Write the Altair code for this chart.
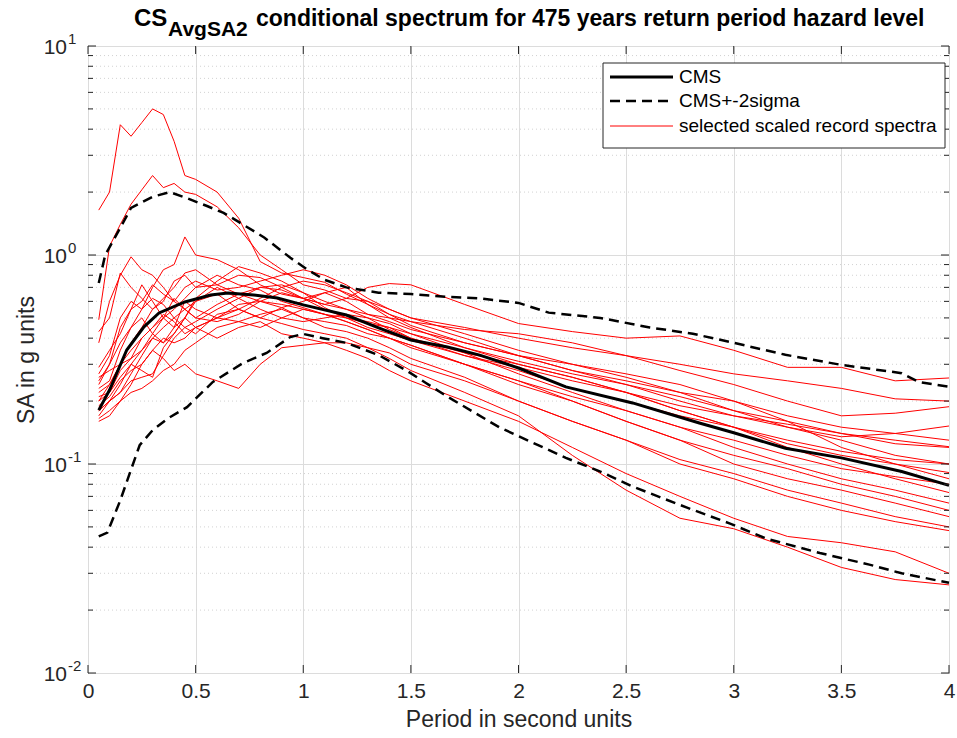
import altair as alt
import pandas as pd

# ---------------- data ----------------
periods_cms = [0.05, 0.1, 0.18, 0.26, 0.33, 0.45, 0.57, 0.65, 0.77, 0.88, 1.0, 1.2, 1.35,
               1.5, 1.67, 1.82, 2.0, 2.22, 2.53, 2.84, 3.0, 3.24, 3.5, 3.78, 4.0]
cms = [0.181, 0.226, 0.351, 0.453, 0.528, 0.596, 0.644, 0.658, 0.644, 0.623, 0.577, 0.516, 0.448,
       0.392, 0.363, 0.332, 0.288, 0.234, 0.196, 0.157, 0.141, 0.119, 0.107, 0.092, 0.079]

periods_up = [0.05, 0.08, 0.15, 0.2, 0.3, 0.38, 0.46, 0.55, 0.63, 0.7, 0.82, 0.94, 1.02, 1.1, 1.2,
              1.35, 1.5, 1.67, 1.82, 2.0, 2.14, 2.38, 2.61, 2.81, 3.0, 3.24, 3.5, 3.78, 3.86, 4.0]
cms_up = [0.735, 1.0, 1.35, 1.68, 1.9, 2.0, 1.87, 1.72, 1.59, 1.44, 1.21, 0.97, 0.85, 0.76, 0.70,
          0.66, 0.65, 0.63, 0.62, 0.59, 0.53, 0.50, 0.45, 0.42, 0.38, 0.333, 0.298, 0.272, 0.247, 0.234]

periods_lo = [0.05, 0.09, 0.15, 0.2, 0.24, 0.3, 0.37, 0.46, 0.58, 0.72, 0.83, 0.94, 1.0, 1.09, 1.2,
              1.35, 1.48, 1.57, 1.67, 1.91, 2.07, 2.22, 2.38, 2.53, 2.78, 2.98, 3.15, 3.4, 3.63, 3.78, 4.0]
cms_lo = [0.045, 0.047, 0.067, 0.094, 0.123, 0.145, 0.165, 0.187, 0.247, 0.304, 0.34, 0.405, 0.419,
          0.40, 0.38, 0.332, 0.28, 0.244, 0.21, 0.15, 0.126, 0.107, 0.092, 0.078, 0.062, 0.052, 0.044,
          0.0375, 0.033, 0.030, 0.027]

periods_rec = [0.05, 0.1, 0.15, 0.2, 0.25, 0.3, 0.35, 0.4, 0.45, 0.5, 0.6, 0.7, 0.8, 0.9, 1.0,
               1.1, 1.2, 1.3, 1.4, 1.5, 1.75, 2.0, 2.25, 2.5, 2.75, 3.0, 3.25, 3.5, 3.75, 4.0]
rec01 = [1.64, 2.0, 4.2, 3.7, 4.3, 5.0, 4.7, 3.5, 2.4, 2.3, 2.0, 1.5, 0.93, 0.82, 0.78, 0.74, 0.65, 0.58, 0.52, 0.48, 0.40, 0.33, 0.28, 0.24, 0.21, 0.18, 0.16, 0.14, 0.125, 0.12]
rec02 = [0.49, 1.1, 1.4, 1.75, 2.05, 2.4, 2.1, 2.2, 2.0, 1.95, 1.7, 1.35, 1.0, 0.85, 0.72, 0.68, 0.62, 0.6, 0.55, 0.5, 0.45, 0.40, 0.36, 0.33, 0.30, 0.27, 0.25, 0.23, 0.205, 0.20]
rec03 = [0.43, 0.5, 0.82, 0.7, 0.62, 0.55, 0.6, 0.75, 0.8, 0.7, 0.72, 0.8, 0.78, 0.7, 0.62, 0.58, 0.62, 0.70, 0.73, 0.72, 0.58, 0.47, 0.43, 0.40, 0.41, 0.35, 0.29, 0.29, 0.25, 0.258]
rec04 = [0.25, 0.3, 0.38, 0.45, 0.55, 0.7, 0.85, 0.9, 1.22, 1.0, 0.95, 0.85, 0.72, 0.65, 0.62, 0.66, 0.6, 0.52, 0.5, 0.48, 0.44, 0.42, 0.38, 0.33, 0.28, 0.24, 0.2, 0.17, 0.175, 0.188]
rec05 = [0.38, 0.6, 0.8, 0.98, 0.85, 0.8, 0.7, 0.6, 0.55, 0.5, 0.58, 0.65, 0.7, 0.68, 0.62, 0.55, 0.5, 0.47, 0.45, 0.42, 0.36, 0.31, 0.27, 0.24, 0.2, 0.17, 0.15, 0.135, 0.14, 0.152]
rec06 = [0.29, 0.35, 0.42, 0.55, 0.72, 0.6, 0.5, 0.45, 0.5, 0.62, 0.75, 0.88, 0.82, 0.75, 0.66, 0.6, 0.55, 0.52, 0.48, 0.44, 0.38, 0.33, 0.28, 0.25, 0.22, 0.20, 0.17, 0.15, 0.14, 0.130]
rec07 = [0.22, 0.24, 0.3, 0.38, 0.45, 0.55, 0.62, 0.7, 0.82, 0.85, 0.72, 0.65, 0.6, 0.58, 0.55, 0.52, 0.5, 0.48, 0.45, 0.4, 0.33, 0.29, 0.25, 0.22, 0.19, 0.17, 0.155, 0.14, 0.13, 0.121]
rec08 = [0.27, 0.33, 0.5, 0.6, 0.55, 0.62, 0.58, 0.5, 0.45, 0.48, 0.55, 0.62, 0.7, 0.72, 0.66, 0.56, 0.5, 0.45, 0.42, 0.39, 0.33, 0.28, 0.23, 0.2, 0.17, 0.15, 0.13, 0.115, 0.105, 0.100]
rec09 = [0.2, 0.24, 0.3, 0.35, 0.4, 0.45, 0.5, 0.62, 0.55, 0.5, 0.48, 0.52, 0.6, 0.66, 0.62, 0.58, 0.55, 0.5, 0.44, 0.4, 0.34, 0.3, 0.26, 0.22, 0.18, 0.15, 0.125, 0.11, 0.1, 0.091]
rec10 = [0.18, 0.2, 0.24, 0.3, 0.35, 0.42, 0.5, 0.55, 0.62, 0.7, 0.8, 0.72, 0.68, 0.6, 0.56, 0.52, 0.48, 0.44, 0.4, 0.37, 0.3, 0.25, 0.21, 0.18, 0.15, 0.13, 0.11, 0.095, 0.087, 0.080]
rec11 = [0.17, 0.2, 0.22, 0.25, 0.26, 0.27, 0.33, 0.4, 0.45, 0.42, 0.52, 0.55, 0.5, 0.56, 0.6, 0.66, 0.7, 0.58, 0.5, 0.45, 0.36, 0.3, 0.26, 0.22, 0.18, 0.15, 0.12, 0.1, 0.085, 0.073]
rec12 = [0.23, 0.25, 0.35, 0.45, 0.5, 0.42, 0.38, 0.45, 0.6, 0.55, 0.5, 0.48, 0.52, 0.55, 0.5, 0.48, 0.46, 0.42, 0.4, 0.36, 0.3, 0.25, 0.2, 0.16, 0.13, 0.11, 0.095, 0.08, 0.07, 0.060]
rec13 = [0.165, 0.18, 0.2, 0.22, 0.23, 0.25, 0.28, 0.3, 0.35, 0.38, 0.45, 0.48, 0.45, 0.5, 0.55, 0.52, 0.48, 0.44, 0.4, 0.37, 0.3, 0.24, 0.2, 0.16, 0.13, 0.1, 0.085, 0.075, 0.065, 0.056]
rec14 = [0.21, 0.22, 0.28, 0.32, 0.4, 0.45, 0.52, 0.48, 0.42, 0.45, 0.5, 0.58, 0.6, 0.56, 0.5, 0.45, 0.43, 0.4, 0.36, 0.32, 0.26, 0.2, 0.16, 0.13, 0.105, 0.09, 0.075, 0.065, 0.056, 0.050]
rec15 = [0.16, 0.17, 0.2, 0.24, 0.3, 0.35, 0.32, 0.28, 0.3, 0.27, 0.25, 0.23, 0.3, 0.36, 0.37, 0.38, 0.38, 0.36, 0.34, 0.3, 0.25, 0.2, 0.16, 0.13, 0.1, 0.085, 0.07, 0.06, 0.053, 0.048]
rec16 = [0.2, 0.22, 0.26, 0.3, 0.28, 0.26, 0.36, 0.42, 0.5, 0.45, 0.4, 0.45, 0.48, 0.42, 0.4, 0.38, 0.35, 0.32, 0.28, 0.25, 0.2, 0.16, 0.12, 0.09, 0.07, 0.055, 0.045, 0.042, 0.038, 0.030]
rec17 = [0.18, 0.2, 0.22, 0.27, 0.33, 0.4, 0.45, 0.5, 0.55, 0.6, 0.65, 0.55, 0.5, 0.47, 0.44, 0.42, 0.4, 0.36, 0.32, 0.28, 0.22, 0.17, 0.11, 0.075, 0.055, 0.049, 0.04, 0.032, 0.028, 0.0264]
rec18 = [0.24, 0.3, 0.45, 0.55, 0.6, 0.72, 0.65, 0.6, 0.7, 0.75, 0.68, 0.7, 0.75, 0.8, 0.85, 0.8, 0.72, 0.62, 0.55, 0.5, 0.42, 0.35, 0.3, 0.26, 0.22, 0.18, 0.15, 0.13, 0.11, 0.100]
rec19 = [0.26, 0.28, 0.3, 0.32, 0.35, 0.4, 0.38, 0.42, 0.5, 0.6, 0.7, 0.62, 0.55, 0.5, 0.48, 0.5, 0.52, 0.5, 0.47, 0.42, 0.34, 0.27, 0.22, 0.18, 0.15, 0.12, 0.1, 0.085, 0.075, 0.065]
rec20 = [0.19, 0.21, 0.25, 0.28, 0.3, 0.35, 0.4, 0.38, 0.4, 0.45, 0.5, 0.55, 0.62, 0.7, 0.75, 0.72, 0.66, 0.6, 0.52, 0.46, 0.38, 0.33, 0.3, 0.27, 0.24, 0.2, 0.16, 0.12, 0.1, 0.085]
records = [rec01, rec02, rec03, rec04, rec05, rec06, rec07, rec08, rec09, rec10,
           rec11, rec12, rec13, rec14, rec15, rec16, rec17, rec18, rec19, rec20]

xtick_vals = [0, 0.5, 1, 1.5, 2, 2.5, 3, 3.5, 4]
ytick_vals = [0.01, 0.1, 1, 10]
ytick_exps = ["-2", "-1", "0", "1"]
minor_vals = [m * d for d in (0.01, 0.1, 1) for m in range(2, 10)]

title_main = "CS"
title_sub = "AvgSA2"
title_rest = "conditional spectrum for 475 years return period hazard level"
x_title = "Period in second units"
y_title = "SA in g units"
legend_labels = ["CMS", "CMS+-2sigma", "selected scaled record spectra"]

# ---------------- tables ----------------
rec_df = pd.DataFrame([
    {"rec": f"r{i + 1:02d}", "T": t, "SA": v}
    for i, r in enumerate(records) for t, v in zip(periods_rec, r)
])
cms_df = pd.DataFrame({"T": periods_cms, "SA": cms})
band_df = pd.concat([
    pd.DataFrame({"T": periods_up, "SA": cms_up, "side": "up"}),
    pd.DataFrame({"T": periods_lo, "SA": cms_lo, "side": "lo"}),
])
xt_df = pd.DataFrame({"T": xtick_vals})
ymaj_df = pd.DataFrame({"SA": ytick_vals, "base": "10", "exp": ytick_exps})
ymin_df = pd.DataFrame({"SA": minor_vals})
one = pd.DataFrame({"a": [0]})

W, H = 861, 627
FONT = "Liberation Sans"
INK = "#262626"
GRID = "#dcdcdc"

xscale = alt.Scale(domain=[0, 4], nice=False, zero=False)
yscale = alt.Scale(type="log", domain=[0.01, 10], nice=False)

xaxis = alt.Axis(values=xtick_vals, format="~g", grid=True, gridColor=GRID, ticks=False,
                 domain=False, labelFontSize=21, labelColor=INK, labelFont=FONT,
                 labelFlush=False, labelPadding=7, title=x_title, titleFontSize=23,
                 titleFontWeight="normal", titleColor=INK, titleFont=FONT,
                 titleBaseline="alphabetic", titleY=53, titleX=W / 2)
yaxis = alt.Axis(values=ytick_vals, grid=True, gridColor=GRID, ticks=False, domain=False,
                 labels=False, title=y_title, titleFontSize=23, titleFontWeight="normal",
                 titleColor=INK, titleFont=FONT, titleBaseline="alphabetic",
                 titleX=-55, titleY=H / 2, titleAngle=270)

x_enc = alt.X("T:Q", scale=xscale, axis=xaxis)
y_enc = alt.Y("SA:Q", scale=yscale, axis=yaxis)

minor_grid = alt.Chart(ymin_df).mark_rule(color="#d2d2d2", strokeDash=[1, 3], strokeWidth=1).encode(y=y_enc)

red = alt.Chart(rec_df).mark_line(color="#ff0000", strokeWidth=1).encode(
    x=x_enc, y=y_enc, detail="rec:N")
band = alt.Chart(band_df).mark_line(color="black", strokeWidth=2.5, strokeDash=[10, 6]).encode(
    x=x_enc, y=y_enc, detail="side:N")
mean = alt.Chart(cms_df).mark_line(color="black", strokeWidth=3).encode(x=x_enc, y=y_enc)

# inward ticks on all four sides (MATLAB box)
xt_bot = alt.Chart(xt_df).mark_rule(color=INK).encode(x=x_enc, y=alt.value(H), y2=alt.value(H - 8))
xt_top = alt.Chart(xt_df).mark_rule(color=INK).encode(x=x_enc, y=alt.value(0), y2=alt.value(8))
yt_l = alt.Chart(ymaj_df).mark_rule(color=INK).encode(y=y_enc, x=alt.value(0), x2=alt.value(8))
yt_r = alt.Chart(ymaj_df).mark_rule(color=INK).encode(y=y_enc, x=alt.value(W), x2=alt.value(W - 8))
ym_l = alt.Chart(ymin_df).mark_rule(color=INK).encode(y=y_enc, x=alt.value(0), x2=alt.value(5))
ym_r = alt.Chart(ymin_df).mark_rule(color=INK).encode(y=y_enc, x=alt.value(W), x2=alt.value(W - 5))

# y tick labels 10^n
ylab_base = alt.Chart(ymaj_df).mark_text(align="right", baseline="alphabetic", dy=8,
                                         fontSize=21, font=FONT, color=INK).encode(
    y=y_enc, x=alt.value(-21), text="base:N")
ylab_exp = alt.Chart(ymaj_df).mark_text(align="left", baseline="alphabetic", dy=-2,
                                        fontSize=15, font=FONT, color=INK).encode(
    y=y_enc, x=alt.value(-20), text="exp:N")

# title with subscript
t1 = alt.Chart(one).mark_text(text=title_main, align="left", baseline="alphabetic", fontSize=24,
                              fontWeight="bold", font=FONT, color="black").encode(
    x=alt.value(46), y=alt.value(-20))
t2 = alt.Chart(one).mark_text(text=title_sub, align="left", baseline="alphabetic", fontSize=21,
                              fontWeight="bold", font=FONT, color="black").encode(
    x=alt.value(80), y=alt.value(-10))
t3 = alt.Chart(one).mark_text(text=title_rest, align="left", baseline="alphabetic", fontSize=23,
                              fontWeight="bold", font=FONT, color="black").encode(
    x=alt.value(168), y=alt.value(-20))

# legend box
lx0, lx1, ly0, ly1 = 515, 857, 17, 102
box = alt.Chart(one).mark_rect(fill="white", stroke=INK, strokeWidth=1).encode(
    x=alt.value(lx0), x2=alt.value(lx1), y=alt.value(ly0), y2=alt.value(ly1))
leg_rows = [31, 55, 80]
leg_styles = [dict(color="black", strokeWidth=3),
              dict(color="black", strokeWidth=2.5, strokeDash=[10, 6]),
              dict(color="#ff0000", strokeWidth=1)]
leg_layers = []
for yy, lab, sty in zip(leg_rows, legend_labels, leg_styles):
    leg_layers.append(alt.Chart(one).mark_rule(**sty).encode(
        x=alt.value(522), x2=alt.value(585), y=alt.value(yy)))
    leg_layers.append(alt.Chart(one).mark_text(text=lab, align="left", baseline="middle",
                                               fontSize=19, font=FONT, color="black").encode(
        x=alt.value(591), y=alt.value(yy)))

chart = alt.layer(
    minor_grid, red, band, mean, xt_bot, xt_top, yt_l, yt_r, ym_l, ym_r,
    ylab_base, ylab_exp, t1, t2, t3, box, *leg_layers
).properties(
    width=W, height=H,
    autosize=alt.AutoSizeParams(type="none"),
    padding={"left": 88, "top": 46, "right": 8, "bottom": 65},
    background="white",
).configure_view(stroke=INK, strokeWidth=1, fill="white")

chart.save("out.html", embed_options={"renderer": "svg", "actions": False})
